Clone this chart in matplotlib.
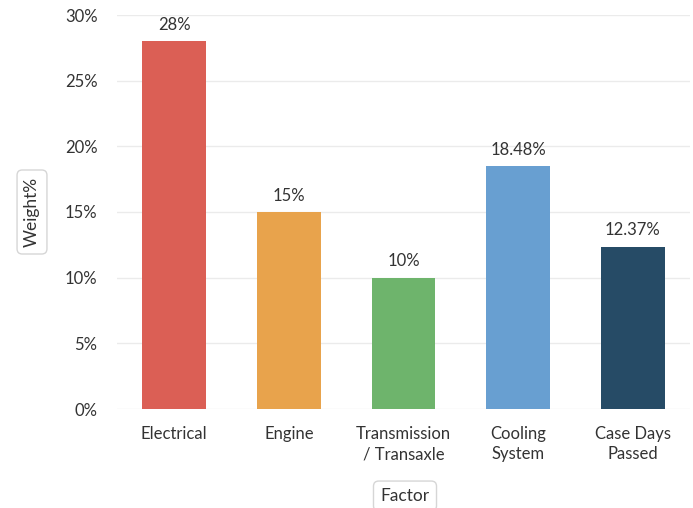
import matplotlib
matplotlib.use("Agg")
from matplotlib import pyplot as plt

factors = ["Electrical", "Engine", "Transmission\n/ Transaxle", "Cooling\nSystem", "Case Days\nPassed"]
weights = [28, 15, 10, 18.48, 12.37]
value_labels = ["28%", "15%", "10%", "18.48%", "12.37%"]
colors = ["#DB5F55", "#E8A34C", "#6EB46C", "#689FD1", "#264B66"]
yticks = [0, 5, 10, 15, 20, 25, 30]

plt.rcParams['font.family'] = ['Lato', 'DejaVu Sans']

W, H = 693, 508
fig = plt.figure(figsize=(W / 100, H / 100), dpi=100)
ax = fig.add_axes([117 / W, (H - 409) / H, (690 - 117) / W, (409 - 15) / H])

x = range(len(factors))
ax.bar(x, weights, width=0.555, color=colors, zorder=2)

for xi, w, lab in zip(x, weights, value_labels):
    ax.annotate(lab, (xi, w), xytext=(0, 6), textcoords="offset points",
                ha="center", va="bottom", fontsize=12, color="#333333")

ax.set_xlim(-0.5, len(factors) - 0.5)
ax.set_ylim(0, 30)
ax.set_yticks(yticks)
ax.set_yticklabels([f"{t}%" for t in yticks])
ax.set_xticks(list(x))
ax.set_xticklabels(factors, linespacing=1.35)
ax.tick_params(axis="both", length=0, labelsize=12, labelcolor="#333333")
ax.tick_params(axis="y", pad=14)
ax.tick_params(axis="x", pad=12)
ax.grid(axis="y", color="#EBEBEB", linewidth=1, zorder=0)
for s in ax.spines.values():
    s.set_visible(False)

box = dict(boxstyle="round,pad=0.4,rounding_size=0.3", fc="white", ec="#D6D6D6", lw=1)
fig.text(32 / W, 1 - 212 / H, "Weight%", rotation=90, ha="center", va="center",
         fontsize=12.5, color="#333333", bbox=box)
fig.text(405 / W, 1 - 496 / H, "Factor", ha="center", va="center",
         fontsize=12.5, color="#333333", bbox=box)

fig.savefig("out.png", dpi=100)
